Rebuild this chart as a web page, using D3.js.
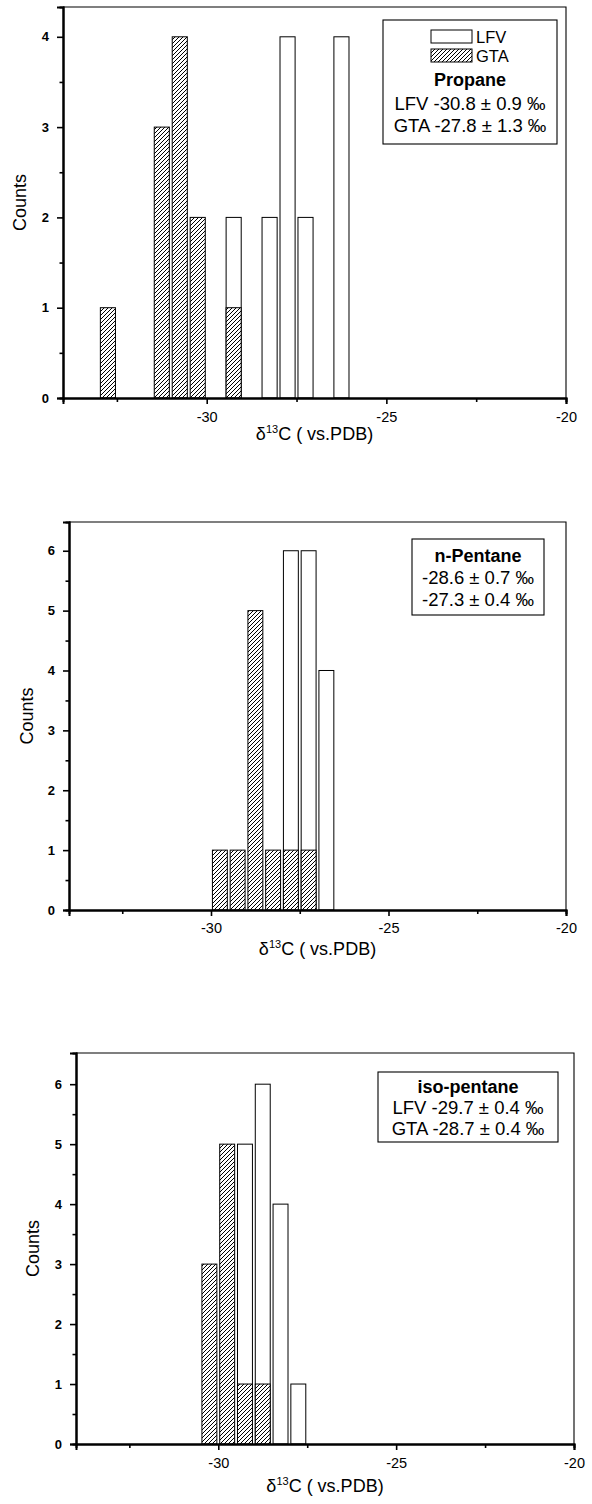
<!DOCTYPE html>
<html>
<head>
<meta charset="utf-8">
<script src="https://cdn.jsdelivr.net/npm/d3@7"></script>
<style>
  body { margin: 0; background: #fff; }
  svg { display: block; }
  text { font-family: "Liberation Sans", Arial, Helvetica, sans-serif; fill: #000; }
</style>
</head>
<body>
<svg id="chart" width="592" height="1504"></svg>
<script>
// δ13C histograms, 0.5 ‰ bins: open bars = LFV, hatched bars = GTA
const binWidth = 0.5;
const xDomain = [-34, -20];
const xTicks = [-30, -25, -20];
const xMinorTicks = [-32.5, -27.5, -22.5];
const seriesNames = ["LFV", "GTA"];
const xTitleMain = "δ", xTitleSup = "13", xTitleRest = "C ( vs.PDB)";
const yTitle = "Counts";

// [bin centre, count]
const propaneLFV = [[-29.25, 2], [-28.25, 2], [-27.75, 4], [-27.25, 2], [-26.25, 4]];
const propaneGTA = [[-32.75, 1], [-31.25, 3], [-30.75, 4], [-30.25, 2], [-29.25, 1]];
const propaneYTicks = [0, 1, 2, 3, 4];
const propaneYMinor = [0.5, 1.5, 2.5, 3.5];
const propaneText = ["Propane", "LFV -30.8 ± 0.9 ‰", "GTA -27.8 ± 1.3 ‰"];

const pentaneLFV = [[-27.75, 6], [-27.25, 6], [-26.75, 4]];
const pentaneGTA = [[-29.75, 1], [-29.25, 1], [-28.75, 5], [-28.25, 1], [-27.75, 1], [-27.25, 1]];
const pentaneYTicks = [0, 1, 2, 3, 4, 5, 6];
const pentaneYMinor = [0.5, 1.5, 2.5, 3.5, 4.5, 5.5];
const pentaneText = ["n-Pentane", "-28.6 ± 0.7 ‰", "-27.3 ± 0.4 ‰"];

const isoLFV = [[-29.25, 5], [-28.75, 6], [-28.25, 4], [-27.75, 1]];
const isoGTA = [[-30.25, 3], [-29.75, 5], [-29.25, 1], [-28.75, 1]];
const isoYTicks = [0, 1, 2, 3, 4, 5, 6];
const isoYMinor = [0.5, 1.5, 2.5, 3.5, 4.5, 5.5];
const isoText = ["iso-pentane", "LFV -29.7 ± 0.4 ‰", "GTA -28.7 ± 0.4 ‰"];

const svg = d3.select("#chart");
svg.append("rect").attr("width", 592).attr("height", 1504).attr("fill", "#fff");

// diagonal hatch used for the GTA bars
const defs = svg.append("defs");
const pat = defs.append("pattern").attr("id", "hatch")
  .attr("patternUnits", "userSpaceOnUse").attr("width", 4).attr("height", 4);
pat.append("rect").attr("width", 4).attr("height", 4).attr("fill", "#fff");
pat.append("path").attr("d", "M-1,1 l2,-2 M0,4 l4,-4 M3,5 l2,-2")
  .attr("stroke", "#000").attr("stroke-width", 1);

// plain hyphen for negative tick labels
const tickFmt = d => String(d);

const panels = [
  { lfv: propaneLFV, gta: propaneGTA, yTicks: propaneYTicks, yMinor: propaneYMinor, text: propaneText,
    left: 63, right: 566, top: 7, bottom: 398, yMax: 4.33,
    yTitleX: 20, tickLabelDy: 24, xTitleDy: 42,
    box: { x: 383, y: 20, w: 174, h: 124 }, swatches: true,
    lines: [86, 110, 132] },
  { lfv: pentaneLFV, gta: pentaneGTA, yTicks: pentaneYTicks, yMinor: pentaneYMinor, text: pentaneText,
    left: 69, right: 566, top: 522, bottom: 910, yMax: 6.48,
    yTitleX: 27, tickLabelDy: 23, xTitleDy: 45,
    box: { x: 412, y: 539, w: 132, h: 76 }, swatches: false,
    lines: [562, 584, 606] },
  { lfv: isoLFV, gta: isoGTA, yTicks: isoYTicks, yMinor: isoYMinor, text: isoText,
    left: 76, right: 574, top: 1053, bottom: 1444, yMax: 6.52,
    yTitleX: 33, tickLabelDy: 24, xTitleDy: 48,
    box: { x: 378, y: 1072, w: 180, h: 70 }, swatches: false,
    lines: [1093, 1114, 1135] }
];

panels.forEach(p => {
  const x = d3.scaleLinear().domain(xDomain).range([p.left, p.right]);
  const y = d3.scaleLinear().domain([0, p.yMax]).range([p.bottom, p.top]);
  const g = svg.append("g");
  const barW = binWidth * 0.84;

  const drawBars = (data, fill) => {
    g.append("g").selectAll("rect").data(data).join("rect")
      .attr("x", d => x(d[0] - barW / 2))
      .attr("width", d => x(d[0] + barW / 2) - x(d[0] - barW / 2))
      .attr("y", d => y(d[1]))
      .attr("height", d => y(0) - y(d[1]))
      .attr("fill", fill)
      .attr("stroke", "#000")
      .attr("stroke-width", 1);
  };
  drawBars(p.lfv, "#fff");
  drawBars(p.gta, "url(#hatch)");

  // frame: thin top/right, heavier left/bottom axes
  g.append("path")
    .attr("d", `M${x(xDomain[0])},${y(p.yMax)}H${x(xDomain[1])}V${y(0)}`)
    .attr("fill", "none").attr("stroke", "#000").attr("stroke-width", 1.1);

  const xAxis = d3.axisBottom(x).tickValues(xTicks).tickSize(6).tickPadding(7).tickFormat(tickFmt);
  const xAxisMinor = d3.axisBottom(x).tickValues(xMinorTicks).tickSize(4).tickFormat("");
  const yAxis = d3.axisLeft(y).tickValues(p.yTicks).tickSize(6).tickPadding(8).tickFormat(tickFmt);
  const yAxisMinor = d3.axisLeft(y).tickValues(p.yMinor).tickSize(3.5).tickFormat("");

  const gx = g.append("g").attr("transform", `translate(0,${p.bottom})`).call(xAxis);
  g.append("g").attr("transform", `translate(0,${p.bottom})`).call(xAxisMinor);
  const gy = g.append("g").attr("transform", `translate(${p.left},0)`).call(yAxis);
  g.append("g").attr("transform", `translate(${p.left},0)`).call(yAxisMinor);

  g.selectAll(".domain").attr("stroke", "#000").attr("stroke-width", 2);
  g.selectAll(".tick line").attr("stroke", "#000").attr("stroke-width", 1.6);
  gx.selectAll(".tick text").attr("y", null).attr("dy", null)
    .attr("transform", `translate(0,${p.tickLabelDy})`)
    .style("font-size", "14.5px").style("font-family", "Liberation Sans, Arial, sans-serif");
  gy.selectAll(".tick text")
    .style("font-size", "13px").style("font-weight", "bold")
    .style("font-family", "Liberation Sans, Arial, sans-serif");

  // axis titles
  const xt = g.append("text")
    .attr("x", (p.left + p.right) / 2).attr("y", p.bottom + p.xTitleDy)
    .attr("text-anchor", "middle").style("font-size", "18px");
  xt.append("tspan").text(xTitleMain);
  xt.append("tspan").attr("dy", -7).style("font-size", "11px").text(xTitleSup);
  xt.append("tspan").attr("dy", 7).text(xTitleRest);

  g.append("text")
    .attr("transform", `translate(${p.yTitleX},${(p.top + p.bottom) / 2}) rotate(-90)`)
    .attr("text-anchor", "middle").attr("dy", "0.35em")
    .style("font-size", "18px").text(yTitle);

  // legend / statistics box
  const b = p.box;
  const cx = b.x + b.w / 2;
  g.append("rect").attr("x", b.x).attr("y", b.y).attr("width", b.w).attr("height", b.h)
    .attr("fill", "#fff").attr("stroke", "#000").attr("stroke-width", 1.1);
  if (p.swatches) {
    const sw = [["#fff", 30], ["url(#hatch)", 49]];
    sw.forEach((s, i) => {
      g.append("rect").attr("x", b.x + 48).attr("y", s[1]).attr("width", 41).attr("height", 13)
        .attr("fill", s[0]).attr("stroke", "#000").attr("stroke-width", 1);
      g.append("text").attr("x", b.x + 93).attr("y", s[1] + 13)
        .style("font-size", "16.5px").text(seriesNames[i]);
    });
  }
  p.text.forEach((t, i) => {
    g.append("text").attr("x", cx).attr("y", p.lines[i])
      .attr("text-anchor", "middle")
      .style("font-size", i === 0 ? "18px" : "18.5px")
      .style("font-weight", i === 0 ? "bold" : "normal")
      .text(t);
  });
});
</script>
</body>
</html>
